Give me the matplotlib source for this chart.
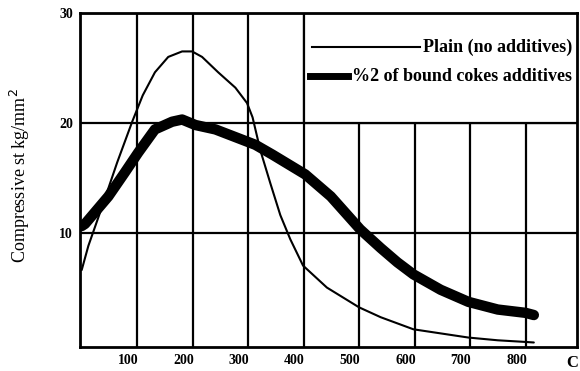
import matplotlib.pyplot as plt
import matplotlib.transforms as mtransforms
from matplotlib.patches import Rectangle

# temperature (C) and compressive strength (kg/mm2)
plain_temp = [0, 12, 37, 64, 91, 110, 132, 156, 181, 199, 217, 246, 277, 298,
              308, 322, 340, 358, 376, 399, 442, 500, 539, 598, 697, 750, 800, 815]
plain_strength = [6.6, 8.8, 12.4, 16.4, 20.1, 22.5, 24.6, 26.0, 26.5, 26.5, 26.0,
                  24.6, 23.2, 21.8, 20.5, 17.5, 14.5, 11.6, 9.4, 7.0, 5.0, 3.2,
                  2.3, 1.2, 0.45, 0.2, 0.05, 0.0]

coke_temp = [0, 6, 48, 78, 102, 132, 163, 181, 205, 241, 277, 313, 344, 403,
             449, 502, 539, 569, 598, 647, 697, 750, 800, 815]
coke_strength = [10.6, 10.8, 13.3, 15.5, 17.3, 19.4, 20.1, 20.3, 19.8, 19.4, 18.7,
                 18.0, 17.1, 15.3, 13.3, 10.3, 8.6, 7.3, 6.2, 4.8, 3.7, 3.0, 2.7,
                 2.5]

x_ticks = [100, 200, 300, 400, 500, 600, 700, 800]
y_ticks = [10, 20, 30]
plain_label = "Plain (no additives)"
coke_label = "%2 of bound cokes additives"

plt.rcParams["font.family"] = ["Liberation Serif", "DejaVu Serif"]

fig = plt.figure(figsize=(5.8, 3.71), dpi=100)
ax = fig.add_axes([0.138, 0.065, 0.857, 0.9])

ax.set_xlim(-3, 893)
ax.set_ylim(-0.4, 30)
ax.set_xticks(x_ticks)
ax.set_yticks(y_ticks)
ax.tick_params(length=0, labelsize=10, pad=5)
for lbl in ax.get_xticklabels() + ax.get_yticklabels():
    lbl.set_fontweight("bold")
shift = mtransforms.ScaledTranslation(-9 / 100, 0, fig.dpi_scale_trans)
for lbl in ax.get_xticklabels():
    lbl.set_transform(lbl.get_transform() + shift)

ax.set_axisbelow(True)
ax.grid(True, color="black", linewidth=1.6)
for s in ax.spines.values():
    s.set_linewidth(2)

# legend area blanks the grid in the upper right
ax.add_patch(Rectangle((400, 20), 500, 10, facecolor="white", edgecolor="black",
                       linewidth=1.6, zorder=1))

ax.plot(plain_temp, plain_strength, color="black", linewidth=1.5, zorder=3,
        solid_capstyle="round", solid_joinstyle="round")
ax.plot(coke_temp, coke_strength, color="black", linewidth=7.5, zorder=3,
        solid_capstyle="round", solid_joinstyle="round")

# hand-made legend
ax.plot([0.467, 0.684], [0.898, 0.898], transform=ax.transAxes, color="black",
        linewidth=1.5, zorder=4)
ax.text(0.99, 0.898, plain_label, transform=ax.transAxes, ha="right", va="center",
        fontsize=13, fontweight="bold", zorder=4)
ax.plot([0.463, 0.539], [0.811, 0.811], transform=ax.transAxes, color="black",
        linewidth=5, zorder=4)
ax.text(0.99, 0.811, coke_label, transform=ax.transAxes, ha="right", va="center",
        fontsize=13, fontweight="bold", zorder=4)

ax.text(0.99, -0.025, "C", transform=ax.transAxes, ha="center", va="top",
        fontsize=12, fontweight="bold")
fig.text(0.034, 0.528, "Compressive st kg/mm$^2$", rotation=90, ha="center",
         va="center", fontsize=13)

fig.savefig("out.png", dpi=100)
